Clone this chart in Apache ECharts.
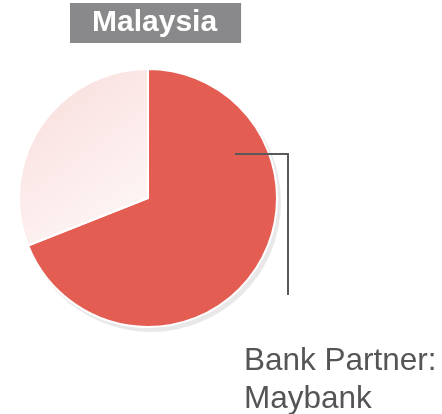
<!DOCTYPE html>
<html>
<head>
<meta charset="utf-8">
<script src="https://cdn.jsdelivr.net/npm/echarts@6/dist/echarts.min.js"></script>
<style>
  html, body { margin: 0; padding: 0; background: #fff; }
  #chart { width: 442px; height: 414px; }
</style>
</head>
<body>
<div id="chart"></div>
<script>
const countryName = 'Malaysia'
const sliceNames = ['Bank Partner', 'Other']
const sliceValues = [69, 31]
const partnerLabel = 'Bank Partner:\nMaybank'

const myChart = echarts.init(document.getElementById('chart'))
const center = [148, 198]
const radius = 129

let option = {
  animation: false,
  title: {
    text: countryName,
    left: 70,
    top: 3,
    backgroundColor: '#89898b',
    padding: [5, 24, 5, 22],
    textStyle: {
      color: '#fff',
      fontFamily: 'Liberation Sans, Arial, sans-serif',
      fontWeight: 'bold',
      fontSize: 30,
      lineHeight: 30
    }
  },
  // leader line from inside the red slice down to the label
  graphic: [
    {
      type: 'polyline',
      z: 100,
      silent: true,
      shape: {
        points: [
          [center[0] + 87, center[1] - 44],
          [center[0] + 140, center[1] - 44],
          [center[0] + 140, center[1] + 97]
        ]
      },
      style: {stroke: '#595959', lineWidth: 2, fill: null}
    }
  ],
  series: [
    {
      // soft grey shadow under the pie
      type: 'pie',
      center: [center[0] + 3, center[1] + 4],
      radius: radius + 1,
      silent: true,
      emphasis: {disabled: true},
      label: {show: false},
      labelLine: {show: false},
      itemStyle: {color: 'rgba(0,0,0,0.09)'},
      data: [1],
      z: 1
    },
    {
      type: 'pie',
      center: center,
      radius: radius,
      startAngle: 90,
      clockwise: true,
      silent: true,
      z: 2,
      emphasis: {disabled: true},
      itemStyle: {
        borderColor: '#fff',
        borderWidth: 2
      },
      labelLine: {show: false},
      labelLayout: function (params) {
        if (params.dataIndex !== 0) return {}
        return {
          x: 244,
          y: 342,
          align: 'left',
          verticalAlign: 'top'
        }
      },
      data: [
        {
          name: sliceNames[0],
          value: sliceValues[0],
          itemStyle: {color: '#e45d52'},
          label: {
            show: true,
            formatter: partnerLabel,
            color: '#555',
            fontFamily: 'Liberation Sans, Arial, sans-serif',
            fontSize: 31.5,
            lineHeight: 38,
            overflow: 'none',
            width: 220
          }
        },
        {
          name: sliceNames[1],
          value: sliceValues[1],
          itemStyle: {
            color: new echarts.graphic.LinearGradient(0, 0, 1, 1, [
              {offset: 0, color: '#f8dcda'},
              {offset: 1, color: '#fffafa'}
            ])
          },
          label: {show: false}
        }
      ]
    }
  ]
}
myChart.setOption(option)
</script>
</body>
</html>
